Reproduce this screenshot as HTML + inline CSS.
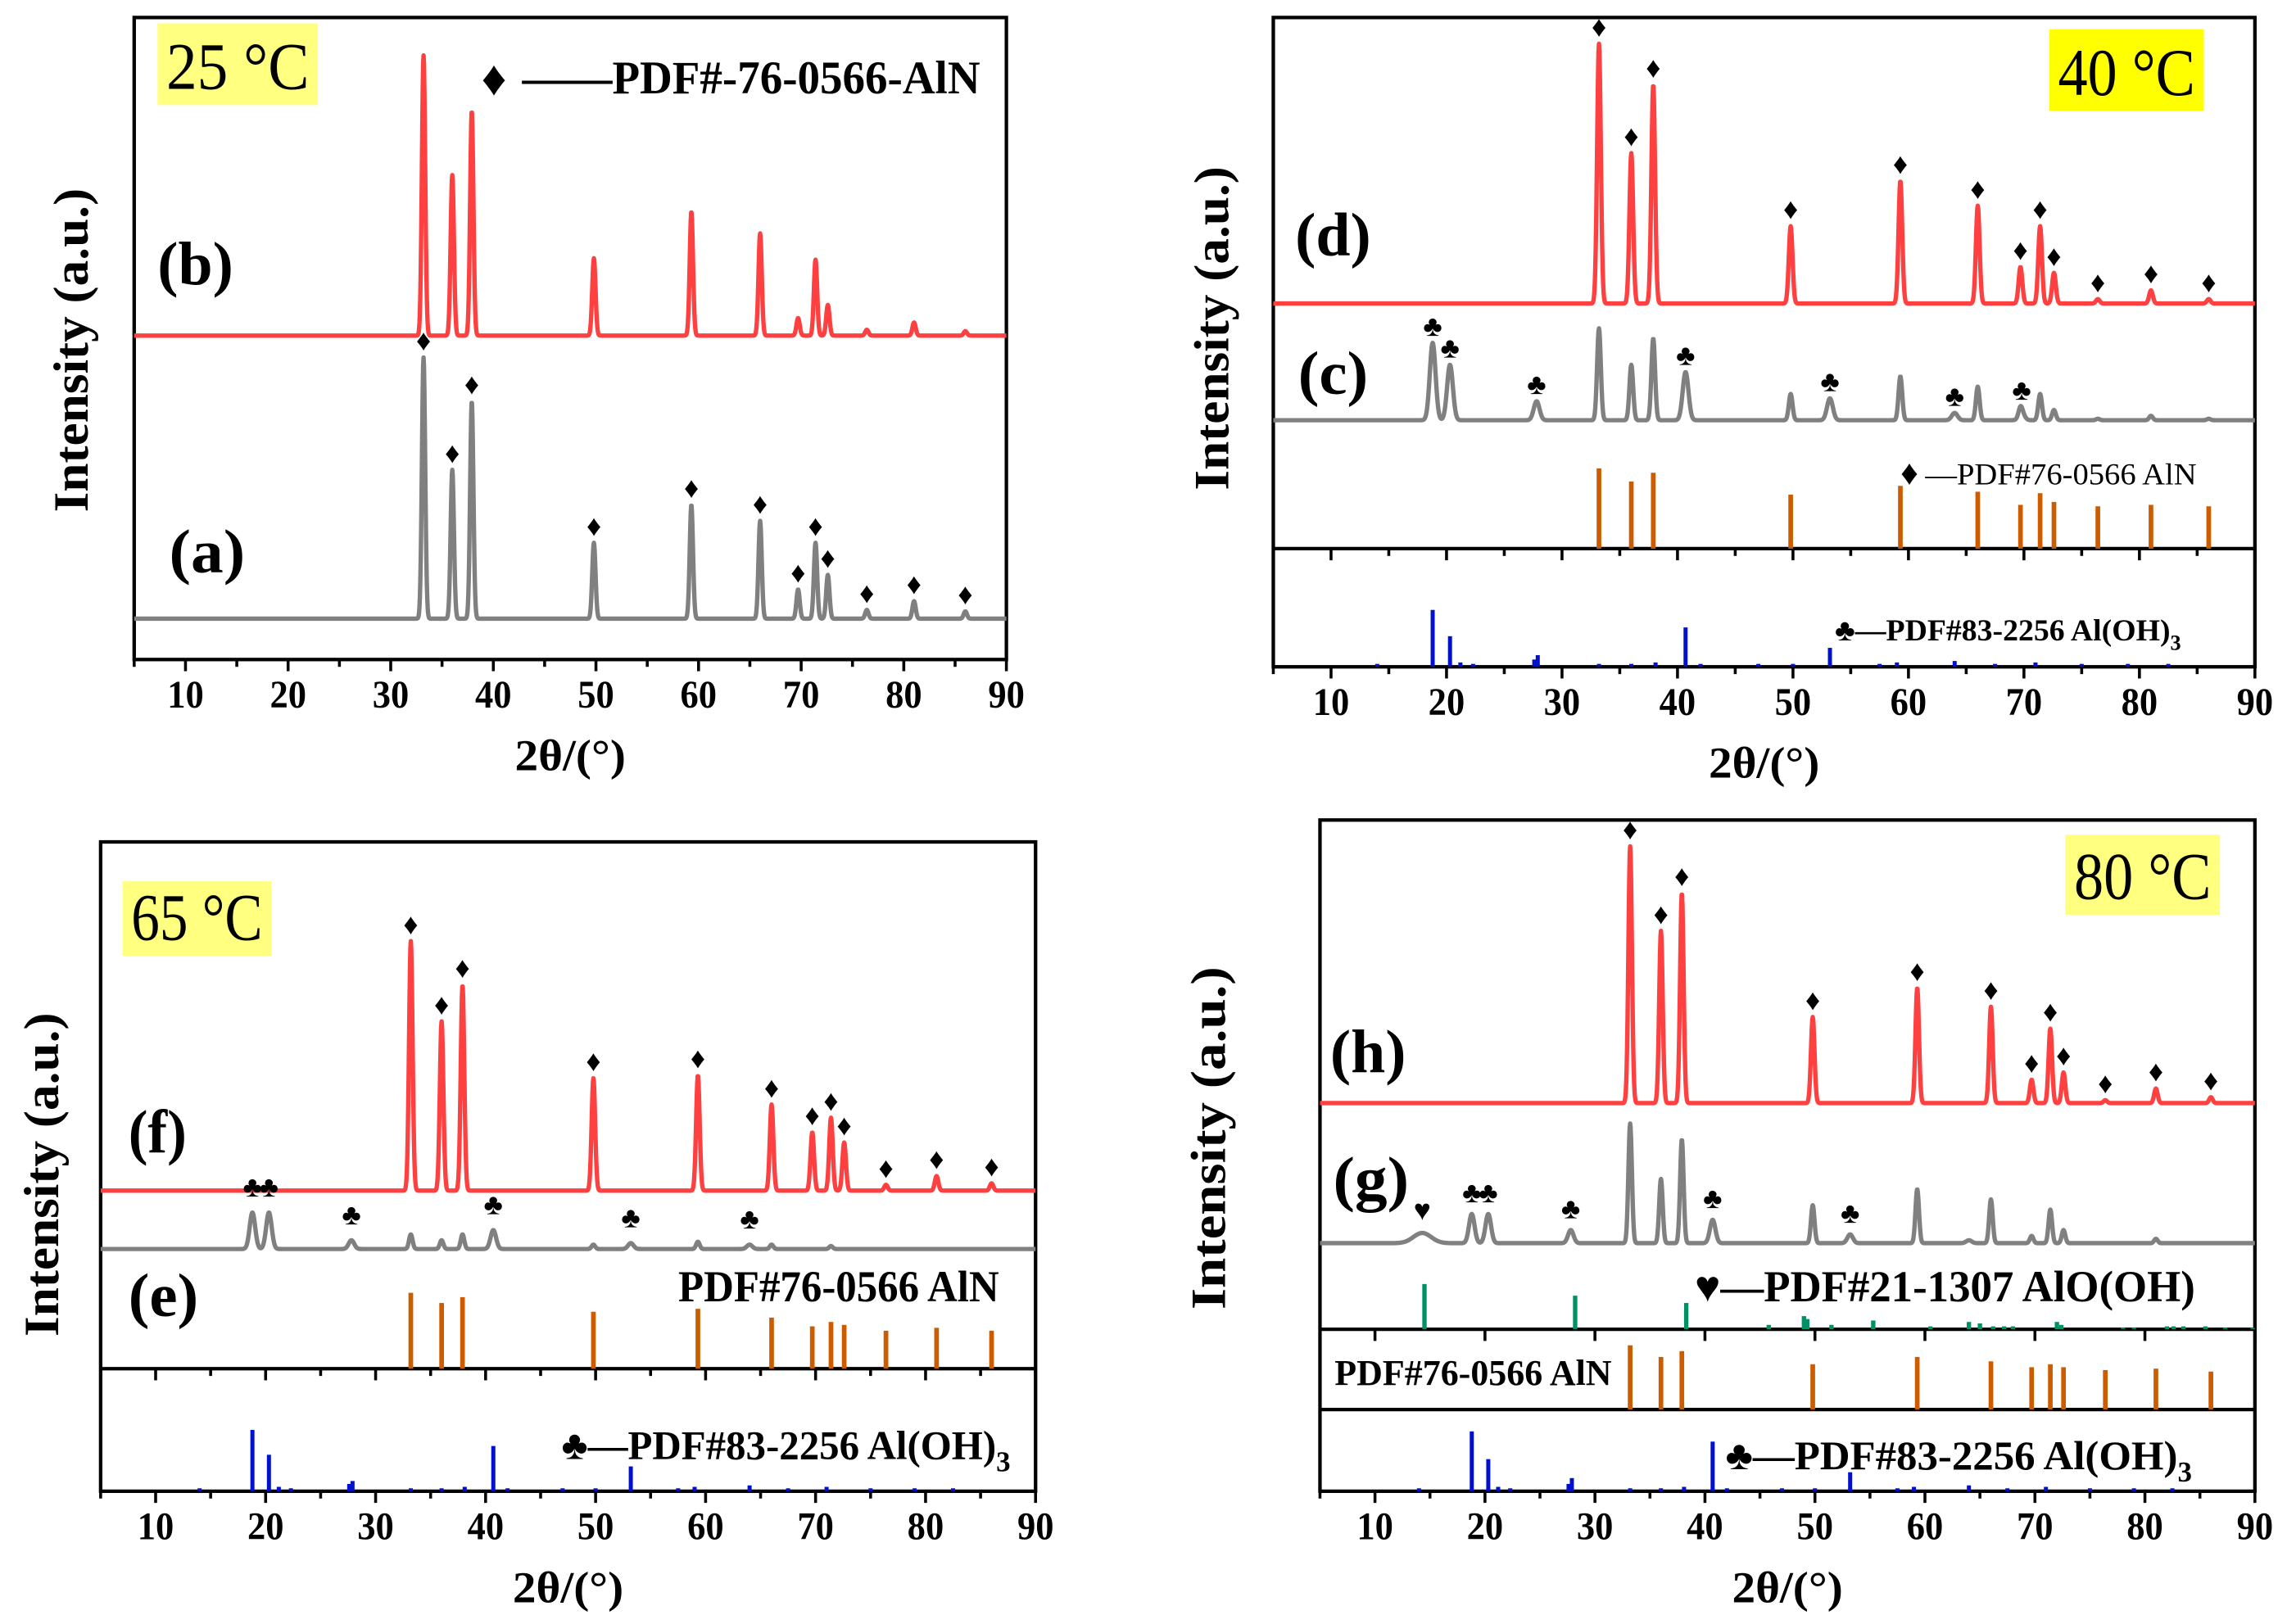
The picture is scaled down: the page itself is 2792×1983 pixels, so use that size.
<!DOCTYPE html>
<html><head><meta charset="utf-8">
<style>
html,body{margin:0;padding:0;background:#fff;}
svg{display:block;}
text{font-family:"Liberation Serif",serif;}
</style></head>
<body>
<svg id="fig" xmlns="http://www.w3.org/2000/svg" width="2792" height="1983" viewBox="0 0 1568 1113" preserveAspectRatio="none">
<rect x="0" y="0" width="1568" height="1113" fill="#fff"/>
</svg>
<script>
// ---- data ----
const xTicks=[10,20,30,40,50,60,70,80,90];
const alnPos=[33.2,36.0,37.9,49.8,59.3,66.0,69.7,71.4,72.6,76.4,81.0,86.0];
const alohPos=[18.8,20.3,27.8,40.7,53.2,64.0,69.8];
const A_b=[192,110,154,53,85,70,12,52,21,4,9,3];
const A_a=[179,102,149,52,78,67,20,52,30,6,12,5];
const B_d=[178,103,150,53,84,67,25,53,21,3,9,3];
const B_cAln=[63,38,56,18,30,23,5,18,7,1,3,1];
const B_cAloh=[53,38,13,33,15,5,5];
const B_alnStick=[55,46,52,37,43,39,30,38,32,29,30,29];
const blueStickPos=[14.0,18.8,20.3,21.2,22.3,27.6,27.9,33.2,36.0,38.1,40.7,42.0,47.0,50.0,53.2,57.5,59.0,64.0,67.5,71.0,75.0,79.0,82.5];
const B_blueStick=[2,39,21,3,2,5,8,2,2,3,27,2,2,2,13,2,3,4,2,3,2,2,2];
const C_f=[171,116,141,77,79,59,40,50,33,4,10,5];
const C_eAln=[10,6,10,3,5,3,0,2,0,0,0,0];
const C_eAloh=[25,25,6,13,4,3,0];
const C_alnStick=[52,45,49,39,41,35,29,32,30,26,28,26];
const C_blueStick=[2,42,25,3,2,5,7,2,2,3,31,2,2,2,17,2,3,4,2,3,2,2,2];
const D_h=[176,118,144,59,79,66,16,51,21,2,10,4];
const D_gAln=[82,44,71,26,37,30,5,23,9,0,3,0];
const D_gAloh=[20,20,9,16,6,2,0];
const D_gBoeh=[7];
const boehPos=[14.3];
const greenStickPos=[14.5,28.2,38.3,45.8,49.0,49.3,51.5,55.3,60.5,64.0,65.0,66.2,67.2,68.0,72.0,72.4,78.0,79.0,82.0,82.6,83.5,85.5,87.3,89.8];
const D_greenStick=[31,23,18,3,9,7,3,6,2,5,4,2,2,2,5,3,1,1,2,2,2,2,1,1];
const D_alnStick=[44,36,40,31,36,33,29,31,29,27,28,26];
const D_blueStick=[2,41,22,3,2,5,9,2,2,3,34,2,2,2,13,2,3,4,2,3,2,2,2];

// ---- drawing ----
const NS='http://www.w3.org/2000/svg';
const svg=document.getElementById('fig');
function el(tag,attrs,parent){const e=document.createElementNS(NS,tag);for(const k in attrs)e.setAttribute(k,attrs[k]);(parent||svg).appendChild(e);return e;}
function txt(s,x,y,size,opts,parent){opts=opts||{};const t=el('text',{x:x,y:y,'font-size':size,'font-weight':opts.w||'bold','text-anchor':opts.a||'start',fill:opts.fill||'#000'},parent);
  if(opts.tl){t.setAttribute('textLength',opts.tl);t.setAttribute('lengthAdjust','spacingAndGlyphs');}
  if(opts.rot)t.setAttribute('transform','rotate(-90 '+x+' '+y+')');t.textContent=s;return t;}
function mkScale(L,R){return v=>L+(v-5)/(90-5)*(R-L);}

function curvePath(sx,base,groups){
  let d='';
  for(let x=5;x<=90.001;x+=0.04){
    let s=0;
    groups.forEach(g=>{for(let i=0;i<g.pos.length;i++){const dx=x-g.pos[i];s+=g.h[i]*Math.exp(-dx*dx/(2*g.sig*g.sig));}});
    d+=(d?'L':'M')+sx(x).toFixed(2)+','+(base-s).toFixed(2);
  }
  return d;
}
function drawCurve(g,sx,base,groups,color,name){
  const p=el('path',{d:curvePath(sx,base,groups),fill:'none',stroke:color,'stroke-width':3,'stroke-linejoin':'round'},g);
  
  
}
function drawSticks(g,sx,base,pos,h,color,name,w){
  pos.forEach((p,i)=>{if(!h[i])return;
    const r=el('rect',{x:sx(p)-(w||1.6),y:base-h[i],width:2*(w||1.6),height:h[i],fill:color},g);
    
    
  });
}
function markers(g,sx,base,pos,h,sym,name,idx){
  (idx||pos.map((_,i)=>i)).forEach(i=>{
    const t=txt(sym,sx(pos[i]),base-h[i]-5,20,{a:'middle',w:'normal'},g);
    
    
  });
}
function axes(g,P){
  const sx=mkScale(P.L,P.R);
  const f=el('rect',{x:P.L,y:P.T,width:P.R-P.L,height:P.B-P.T,fill:'none',stroke:'#000','stroke-width':2.4},g);
  
  
  (P.dividers||[]).forEach(y=>{const l=el('line',{x1:P.L,x2:P.R,y1:y,y2:y,stroke:'#000','stroke-width':2.4},g);
    
    
    if(P.divTicks){for(let v=5;v<=90;v+=5){el('line',{x1:sx(v),x2:sx(v),y1:y,y2:y+(v%10===0?8:5),stroke:'#000','stroke-width':2},g);}}
  });
  for(let v=5;v<=90;v+=5){const t=el('line',{x1:sx(v),x2:sx(v),y1:P.B,y2:P.B+(v%10===0?8:5),stroke:'#000','stroke-width':2},g);
    
    }
  xTicks.forEach(v=>{const t=txt(String(v),sx(v),P.B+33,27,{a:'middle',tl:25},g);
    
    });
  const xt=txt('2θ/(°)',(P.L+P.R)/2,P.B+76,30,{a:'middle',tl:76},g);
  
  
  const yt=txt('Intensity (a.u.)',P.yx,P.yc,34,{a:'middle',rot:true,tl:P.ytl||222},g);
  
  
  return sx;
}
function tempLabel(g,s,x,y,w,h,fill){
  const r=el('rect',{x:x,y:y,width:w,height:h,fill:fill},g);
  
  
  const t=txt(s,x+w/2,y+h-11,46,{a:'middle',w:'normal',tl:w-12},g);
  
  
}
function lab(g,s,x,y,tl){const t=txt(s,x,y,42,{tl:tl||52},g);}
function legend(g,s,x,y,size,w,tl){const t=txt(s,x,y,size,{w:w||'bold',tl:tl},g);return t;}
function legendSub(g,main,sub,x,y,size,tl){const t=txt('',x,y,size,{},g);
  const a=el('tspan',{},t);a.textContent=main;if(tl){a.setAttribute('textLength',tl);a.setAttribute('lengthAdjust','spacingAndGlyphs');}
  const b=el('tspan',{dy:size*0.3,'font-size':size*0.7},t);b.textContent=sub;}

const RED='#ff4040',GRAY='#808080',ORANGE='#cc5c00',BLUE='#0010cc',GREEN='#009066';

// Panel A
(function(){
  const g=el('g',{});
  const P={L:92,R:690,T:12,B:452,yx:60,yc:240};
  const sx=axes(g,P);
  drawCurve(g,sx,230,[{pos:alnPos,h:A_b,sig:0.16}],RED,'curve-b');
  drawCurve(g,sx,424,[{pos:alnPos,h:A_a,sig:0.16}],GRAY,'curve-a');
  markers(g,sx,424,alnPos,A_a,'♦','aln-marker');
  tempLabel(g,'25 °C',108,16,110,56,'#ffff80');
  lab(g,'(b)',108,195);lab(g,'(a)',116,392);
  legend(g,'♦',330,65,34,'normal');
  legend(g,'——PDF#-76-0566-AlN',358,64,32,'bold',314);
})();
// Panel B
(function(){
  const g=el('g',{});
  const P={L:873,R:1546,T:12,B:457,yx:842,yc:225,dividers:[376],divTicks:true};
  const sx=axes(g,P);
  drawCurve(g,sx,208,[{pos:alnPos,h:B_d,sig:0.16}],RED,'curve-d');
  drawCurve(g,sx,288,[{pos:alnPos,h:B_cAln,sig:0.16},{pos:alohPos,h:B_cAloh,sig:0.25}],GRAY,'curve-c');
  markers(g,sx,208,alnPos,B_d,'♦','aln-marker');
  markers(g,sx,288,alohPos,alohPos.map((p,i)=>{let s=B_cAloh[i];alnPos.forEach((q,j)=>{s+=B_cAln[j]*Math.exp(-(p-q)*(p-q)/0.045);});return s;}),'♣','aloh-marker',[0,1,2,3,4,5,6]);
  drawSticks(g,sx,376,alnPos,B_alnStick,ORANGE,'aln-reference');
  drawSticks(g,sx,457,blueStickPos,B_blueStick,BLUE,'aloh-reference',1.4);
  tempLabel(g,'40 °C',1405,20,106,56,'#ffff00');
  lab(g,'(d)',888,175);lab(g,'(c)',890,270,48);
  legend(g,'♦',1303,332,24,'normal');legend(g,'—PDF#76-0566 AlN',1320,332,21,'normal',186);
  legendSub(g,'♣—PDF#83-2256 Al(OH)','3',1258,439,21,230);
})();
// Panel C
(function(){
  const g=el('g',{});
  const P={L:69,R:710,T:577,B:1022,yx:40,yc:805,dividers:[938],divTicks:true};
  const sx=axes(g,P);
  drawCurve(g,sx,816,[{pos:alnPos,h:C_f,sig:0.16}],RED,'curve-f');
  drawCurve(g,sx,856,[{pos:alnPos,h:C_eAln,sig:0.16},{pos:alohPos,h:C_eAloh,sig:0.25}],GRAY,'curve-e');
  markers(g,sx,816,alnPos,C_f,'♦','aln-marker');
  markers(g,sx,856,alohPos,C_eAloh.map(v=>v+6),'♣','aloh-marker',[0,1,2,3,4,5]);
  drawSticks(g,sx,938,alnPos,C_alnStick,ORANGE,'aln-reference');
  drawSticks(g,sx,1022,blueStickPos,C_blueStick,BLUE,'aloh-reference',1.4);
  tempLabel(g,'65 °C',84,604,102,51,'#ffff80');
  lab(g,'(f)',88,790,40);lab(g,'(e)',88,902,48);
  legend(g,'PDF#76-0566 AlN',465,892,30,'bold',220);
  legendSub(g,'♣—PDF#83-2256 Al(OH)','3',385,1000,28,298);
})();
// Panel D
(function(){
  const g=el('g',{});
  const P={L:905,R:1546,T:562,B:1022,yx:840,yc:780,dividers:[911,966],divTicks:false,ytl:235};
  const sx=axes(g,P);
  for(let v=10;v<=90;v+=10){el('line',{x1:sx(v),x2:sx(v),y1:911,y2:919,stroke:'#000','stroke-width':2},g);}
  drawCurve(g,sx,756,[{pos:alnPos,h:D_h,sig:0.16}],RED,'curve-h');
  drawCurve(g,sx,852,[{pos:alnPos,h:D_gAln,sig:0.16},{pos:alohPos,h:D_gAloh,sig:0.25},{pos:boehPos,h:D_gBoeh,sig:0.8}],GRAY,'curve-g');
  markers(g,sx,756,alnPos,D_h,'♦','aln-marker');
  markers(g,sx,852,alohPos,D_gAloh.map(v=>v+3),'♣','aloh-marker',[0,1,2,3,4]);
  markers(g,sx,852,boehPos,D_gBoeh.map(v=>v+4),'♥','alooh-marker');
  drawSticks(g,sx,911,greenStickPos,D_greenStick,GREEN,'alooh-reference',1.5);
  drawSticks(g,sx,966,alnPos,D_alnStick,ORANGE,'aln-reference');
  drawSticks(g,sx,1022,blueStickPos,D_blueStick,BLUE,'aloh-reference',1.4);
  tempLabel(g,'80 °C',1416,572,106,55,'#ffff80');
  lab(g,'(h)',912,735);lab(g,'(g)',914,822);
  legend(g,'♥—PDF#21-1307 AlO(OH)',1162,892,30,'bold',343);
  legend(g,'PDF#76-0566 AlN',915,949,25,'bold',190);
  legendSub(g,'♣—PDF#83-2256 Al(OH)','3',1183,1007,28,310);
})();
</script>
</body></html>
